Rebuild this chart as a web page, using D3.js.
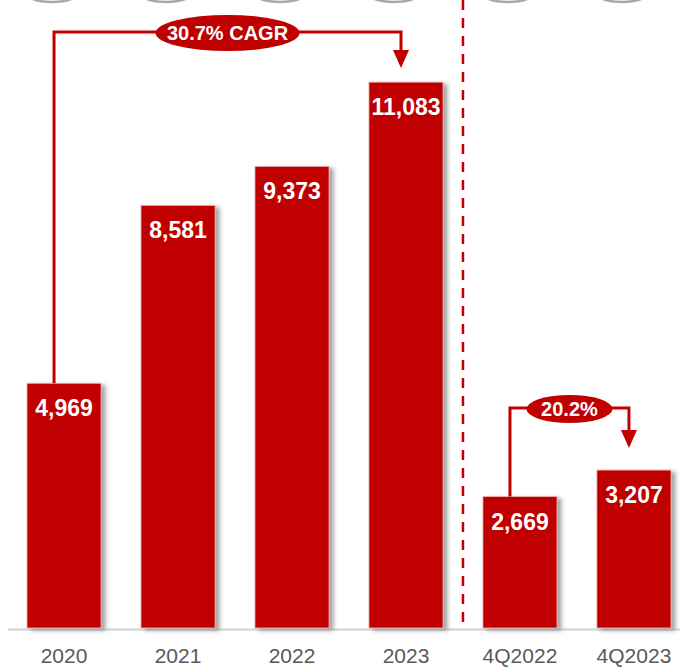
<!DOCTYPE html>
<html>
<head>
<meta charset="utf-8">
<script src="https://cdn.jsdelivr.net/npm/d3@7"></script>
<style>
  body { margin: 0; background: #fff; }
  svg { display: block; font-family: "Liberation Sans", Arial, sans-serif; }
</style>
</head>
<body>
<div id="chart"></div>
<script>
// data
const categories = ["2020", "2021", "2022", "2023", "4Q2022", "4Q2023"];
const revenue = [4969, 8581, 9373, 11083, 2669, 3207];
const valueLabels = ["4,969", "8,581", "9,373", "11,083", "2,669", "3,207"];
const growthLabels = ["30.7% CAGR", "20.2%"];

const width = 680, height = 668;
const red = "#C00000";

const svg = d3.select("#chart")
  .append("svg")
  .attr("width", width)
  .attr("height", height);

// shadow for bars
const defs = svg.append("defs");
const f = defs.append("filter").attr("id", "shadow")
  .attr("x", "-20%").attr("y", "-5%").attr("width", "150%").attr("height", "115%");
f.append("feDropShadow")
  .attr("dx", 4).attr("dy", 2).attr("stdDeviation", 2)
  .attr("flood-color", "#555").attr("flood-opacity", 0.55);

// scales
const x = d3.scaleBand()
  .domain(categories)
  .range([27, 671])
  .paddingInner(0.35)
  .paddingOuter(0);

const y = d3.scaleLinear()
  .domain([0, 12751])
  .range([628, 0]);

const bw = x.bandwidth();
const cx = c => x(c) + bw / 2;

// gray icon bottoms cut off at the top
svg.append("g")
  .selectAll("ellipse")
  .data(categories)
  .join("ellipse")
  .attr("cx", d => cx(d) - 12)
  .attr("cy", -4)
  .attr("rx", 22)
  .attr("ry", 6)
  .attr("fill", "none")
  .attr("stroke", "#a8a8a8")
  .attr("stroke-width", 2.5);

// baseline
svg.append("line")
  .attr("x1", 8).attr("x2", width)
  .attr("y1", y(0) + 1.5).attr("y2", y(0) + 1.5)
  .attr("stroke", "#d9d9d9")
  .attr("stroke-width", 2.5);

// bars
svg.append("g")
  .selectAll("rect")
  .data(categories)
  .join("rect")
  .attr("x", d => x(d))
  .attr("y", (d, i) => y(revenue[i]))
  .attr("width", bw)
  .attr("height", (d, i) => y(0) - y(revenue[i]))
  .attr("fill", red)
  .attr("stroke", "#eab8b8")
  .attr("stroke-width", 0.8)
  .attr("filter", "url(#shadow)");

// value labels
svg.append("g")
  .selectAll("text")
  .data(categories)
  .join("text")
  .attr("x", d => cx(d))
  .attr("y", (d, i) => y(revenue[i]) + 33)
  .attr("text-anchor", "middle")
  .attr("fill", "#fff")
  .attr("font-weight", "bold")
  .attr("font-size", 23)
  .text((d, i) => valueLabels[i]);

// category labels
svg.append("g")
  .selectAll("text")
  .data(categories)
  .join("text")
  .attr("x", d => cx(d))
  .attr("y", 663)
  .attr("text-anchor", "middle")
  .attr("fill", "#595959")
  .attr("font-size", 21)
  .text(d => d);

// dashed divider between annual and quarterly
const divX = (x("2023") + bw + x("4Q2022")) / 2;
svg.append("line")
  .attr("x1", divX).attr("x2", divX)
  .attr("y1", 0).attr("y2", y(0))
  .attr("stroke", red)
  .attr("stroke-width", 2.5)
  .attr("stroke-dasharray", "10,8");

// growth brackets
function bracket(from, to, lineY, tipY, label, rx, ry, fs) {
  const x1 = cx(from) - 10, x2 = cx(to) - 5;
  const g = svg.append("g");
  g.append("path")
    .attr("d", `M${x1},${y(revenue[categories.indexOf(from)])} V${lineY} H${x2} V${tipY - 16}`)
    .attr("fill", "none")
    .attr("stroke", red)
    .attr("stroke-width", 3);
  g.append("path")
    .attr("d", `M${x2 - 8},${tipY - 18} L${x2 + 8},${tipY - 18} L${x2},${tipY} Z`)
    .attr("fill", red);
  const mx = (x1 + x2) / 2;
  g.append("ellipse")
    .attr("cx", mx).attr("cy", lineY + 1)
    .attr("rx", rx).attr("ry", ry)
    .attr("fill", red);
  g.append("text")
    .attr("x", mx).attr("y", lineY + 8)
    .attr("text-anchor", "middle")
    .attr("fill", "#fff")
    .attr("font-weight", "bold")
    .attr("font-size", fs)
    .text(label);
}

bracket("2020", "2023", 32, 68, growthLabels[0], 72, 18, 20);
bracket("4Q2022", "4Q2023", 408, 448, growthLabels[1], 43, 14, 20);
</script>
</body>
</html>
